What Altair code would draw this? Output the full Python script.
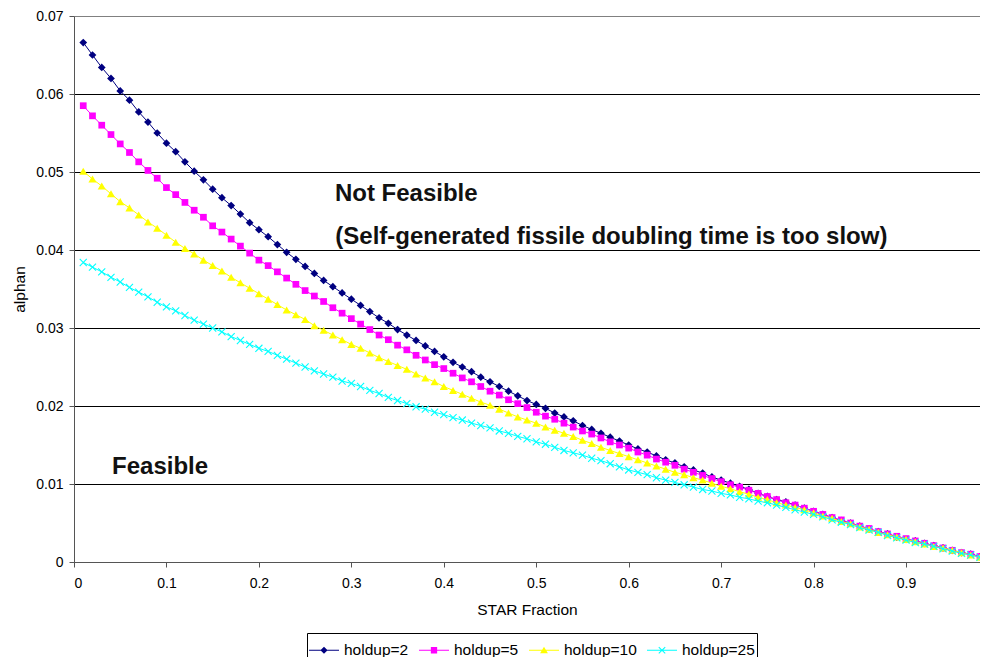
import altair as alt
import pandas as pd

# STAR fraction grid (x values of every plotted marker)
star_fraction = [round(0.01 * i, 2) for i in range(1, 100)]

holdup_2 = [
    0.0666, 0.0650, 0.0634, 0.0620, 0.0604, 0.0592, 0.0577, 0.0564, 0.0550, 0.0537,
    0.0526, 0.0513, 0.0501, 0.0490, 0.0478, 0.0467, 0.0457, 0.0446, 0.0435, 0.0426,
    0.0417, 0.0407, 0.0397, 0.0388, 0.0379, 0.0370, 0.0361, 0.0353, 0.0345, 0.0337,
    0.0329, 0.0321, 0.0313, 0.0306, 0.0298, 0.0291, 0.0284, 0.0277, 0.0270, 0.0263,
    0.0256, 0.0250, 0.0244, 0.0237, 0.0231, 0.0225, 0.0219, 0.0213, 0.0207, 0.0202,
    0.0197, 0.0191, 0.0186, 0.0181, 0.0175, 0.0170, 0.0165, 0.0160, 0.0155, 0.0150,
    0.0145, 0.0141, 0.0136, 0.0131, 0.0127, 0.0122, 0.0118, 0.0114, 0.0109, 0.0105,
    0.0101, 0.0097, 0.0093, 0.0088, 0.0084, 0.0080, 0.0077, 0.0073, 0.0069, 0.0065,
    0.0061, 0.0057, 0.0053, 0.0050, 0.0046, 0.0042, 0.0039, 0.0036, 0.0032, 0.0029,
    0.0027, 0.0024, 0.0021, 0.0018, 0.0015, 0.0012, 0.0010, 0.0007, 0.0005,
]

holdup_5 = [
    0.0585, 0.0572, 0.0560, 0.0548, 0.0536, 0.0525, 0.0513, 0.0502, 0.0492, 0.0480,
    0.0471, 0.0461, 0.0451, 0.0442, 0.0431, 0.0423, 0.0414, 0.0405, 0.0396, 0.0387,
    0.0380, 0.0372, 0.0364, 0.0356, 0.0348, 0.0341, 0.0334, 0.0326, 0.0319, 0.0312,
    0.0305, 0.0298, 0.0291, 0.0285, 0.0278, 0.0272, 0.0265, 0.0259, 0.0253, 0.0248,
    0.0242, 0.0236, 0.0231, 0.0225, 0.0219, 0.0214, 0.0208, 0.0203, 0.0198, 0.0192,
    0.0187, 0.0183, 0.0178, 0.0173, 0.0168, 0.0164, 0.0159, 0.0154, 0.0150, 0.0146,
    0.0141, 0.0137, 0.0132, 0.0128, 0.0124, 0.0119, 0.0115, 0.0111, 0.0107, 0.0103,
    0.0099, 0.0096, 0.0092, 0.0088, 0.0084, 0.0080, 0.0076, 0.0073, 0.0069, 0.0065,
    0.0061, 0.0057, 0.0054, 0.0050, 0.0046, 0.0043, 0.0039, 0.0036, 0.0033, 0.0030,
    0.0027, 0.0024, 0.0021, 0.0018, 0.0015, 0.0012, 0.0010, 0.0007, 0.0005,
]

holdup_10 = [
    0.0501, 0.0491, 0.0482, 0.0472, 0.0462, 0.0454, 0.0445, 0.0436, 0.0428, 0.0419,
    0.0410, 0.0402, 0.0395, 0.0387, 0.0380, 0.0373, 0.0365, 0.0358, 0.0351, 0.0344,
    0.0337, 0.0330, 0.0323, 0.0317, 0.0311, 0.0303, 0.0297, 0.0291, 0.0285, 0.0279,
    0.0274, 0.0268, 0.0262, 0.0257, 0.0252, 0.0247, 0.0241, 0.0236, 0.0231, 0.0225,
    0.0220, 0.0215, 0.0210, 0.0205, 0.0201, 0.0196, 0.0191, 0.0186, 0.0182, 0.0178,
    0.0173, 0.0169, 0.0165, 0.0161, 0.0156, 0.0152, 0.0147, 0.0143, 0.0139, 0.0135,
    0.0131, 0.0127, 0.0123, 0.0119, 0.0115, 0.0112, 0.0108, 0.0105, 0.0101, 0.0097,
    0.0094, 0.0090, 0.0087, 0.0083, 0.0080, 0.0076, 0.0073, 0.0070, 0.0067, 0.0063,
    0.0059, 0.0056, 0.0052, 0.0049, 0.0045, 0.0042, 0.0038, 0.0035, 0.0032, 0.0029,
    0.0026, 0.0023, 0.0020, 0.0018, 0.0015, 0.0012, 0.0009, 0.0006, 0.0004,
]

holdup_25 = [
    0.0384, 0.0378, 0.0372, 0.0365, 0.0359, 0.0352, 0.0346, 0.0340, 0.0333, 0.0327,
    0.0322, 0.0316, 0.0310, 0.0305, 0.0300, 0.0295, 0.0289, 0.0284, 0.0279, 0.0274,
    0.0270, 0.0265, 0.0260, 0.0255, 0.0250, 0.0245, 0.0241, 0.0237, 0.0232, 0.0229,
    0.0225, 0.0220, 0.0216, 0.0211, 0.0207, 0.0203, 0.0199, 0.0196, 0.0192, 0.0189,
    0.0185, 0.0182, 0.0178, 0.0175, 0.0172, 0.0168, 0.0165, 0.0161, 0.0158, 0.0154,
    0.0151, 0.0147, 0.0143, 0.0140, 0.0137, 0.0133, 0.0130, 0.0126, 0.0122, 0.0118,
    0.0115, 0.0112, 0.0108, 0.0105, 0.0102, 0.0099, 0.0096, 0.0093, 0.0091, 0.0088,
    0.0086, 0.0083, 0.0081, 0.0078, 0.0076, 0.0073, 0.0070, 0.0067, 0.0064, 0.0061,
    0.0058, 0.0054, 0.0051, 0.0048, 0.0044, 0.0041, 0.0038, 0.0034, 0.0031, 0.0028,
    0.0025, 0.0023, 0.0020, 0.0017, 0.0014, 0.0011, 0.0009, 0.0006, 0.0004,
]

series_names = ["holdup=2", "holdup=5", "holdup=10", "holdup=25"]
series_values = [holdup_2, holdup_5, holdup_10, holdup_25]
series_colors = ["#000080", "#FF00FF", "#FFFF00", "#00FFFF"]

x_ticks = [0, 0.1, 0.2, 0.3, 0.4, 0.5, 0.6, 0.7, 0.8, 0.9]
y_ticks = [0, 0.01, 0.02, 0.03, 0.04, 0.05, 0.06, 0.07]

note_text = ["Not Feasible", "(Self-generated fissile doubling time is too slow)", "Feasible"]
note_x = [0.2822, 0.2827, 0.0412]
note_y = [0.04634, 0.04078, 0.01122]

FONT = "Liberation Sans"

rows = []
for name, vals in zip(series_names, series_values):
    assert len(vals) == len(star_fraction)
    for xv, yv in zip(star_fraction, vals):
        rows.append({"x": xv, "y": yv, "series": name})
df = pd.DataFrame(rows)
notes = pd.DataFrame({"x": note_x, "y": note_y, "text": note_text})
legend_df = pd.DataFrame({"x": [0.5] * 4, "y": [0.03] * 4, "series": series_names})

x_enc = alt.X(
    "x:Q",
    scale=alt.Scale(domain=[0, 0.98], nice=False, zero=False),
    axis=alt.Axis(
        values=x_ticks, format="~g", title="STAR Fraction", grid=False,
        labelFont=FONT, labelFontSize=14, labelColor="black", labelPadding=9,
        titleFont=FONT, titleFontSize=15.5, titleFontWeight="normal", titleColor="black",
        titlePadding=12, tickSize=5, tickColor="#555555", domainColor="#555555",
    ),
)
y_enc = alt.Y(
    "y:Q",
    scale=alt.Scale(domain=[0, 0.07], nice=False, zero=True),
    axis=alt.Axis(
        values=y_ticks, format="~g", title="alphan", grid=True,
        gridColor=alt.condition("datum.value > 0.0695", alt.value("#808080"), alt.value("#000000")),
        gridWidth=1,
        labelFont=FONT, labelFontSize=14, labelColor="black", labelPadding=6,
        titleFont=FONT, titleFontSize=15.5, titleFontWeight="normal", titleColor="black",
        titlePadding=8, tickSize=5, tickColor="#555555", domainColor="#555555",
    ),
)

x_path = "M-1,-1L1,1M-1,1L1,-1"
point_styles = [
    dict(shape="diamond", size=60, filled=True),
    dict(shape="square", size=45, filled=True),
    dict(shape="triangle-up", size=66, filled=True),
    dict(shape=x_path, size=50, filled=False, strokeWidth=1.1),
]

legend_paths = [
    "M-1,-0.04H1V0.04H-1Z M0,-0.24L0.24,0L0,0.24L-0.24,0Z",
    "M-1,-0.04H1V0.04H-1Z M-0.21,-0.21H0.21V0.21H-0.21Z",
    "M-1,-0.04H1V0.04H-1Z M0,-0.23L0.26,0.2H-0.26Z",
    "M-1,-0.04H1V0.04H-1Z M-0.24,-0.19L-0.19,-0.24L0.24,0.19L0.19,0.24Z M0.19,-0.24L0.24,-0.19L-0.19,0.24L-0.24,0.19Z",
]

base = alt.Chart(df).encode(x=x_enc, y=y_enc)
layers = []
for name, color, style in zip(series_names, series_colors, point_styles):
    filt = alt.datum.series == name
    layers.append(base.transform_filter(filt).mark_line(color=color, strokeWidth=1, clip=False))
    layers.append(
        base.transform_filter(filt).mark_point(color=color, opacity=1, clip=False, **style)
    )

text_layer = alt.Chart(notes).mark_text(
    align="left", baseline="alphabetic", font=FONT, fontSize=24, fontWeight="bold", color="#111111"
).encode(x=x_enc, y=y_enc, text="text:N")

legend_layer = alt.Chart(legend_df).mark_point(filled=True, opacity=0, size=900).encode(
    x=x_enc,
    y=y_enc,
    color=alt.Color("series:N", scale=alt.Scale(domain=series_names, range=series_colors), legend=alt.Legend(title=None)),
    shape=alt.Shape("series:N", scale=alt.Scale(domain=series_names, range=legend_paths), legend=alt.Legend(title=None)),
)

chart = alt.layer(*layers, text_layer, legend_layer).properties(
    width=906,
    height=546,
    padding={"left": 66, "top": 8, "right": 0, "bottom": 110},
    autosize=alt.AutoSizeParams(type="none"),
    background="white",
).configure_view(stroke=None).configure_legend(
    orient="none",
    legendX=233,
    legendY=617,
    direction="horizontal",
    columns=4,
    strokeColor="black",
    fillColor="white",
    padding=2,
    labelFont=FONT,
    labelFontSize=15.5,
    labelColor="black",
    labelOffset=5,
    columnPadding=10,
    symbolSize=900,
    symbolStrokeWidth=0,
    symbolOpacity=1,
)

chart.save("out.html", embed_options={"renderer": "svg", "actions": False})
